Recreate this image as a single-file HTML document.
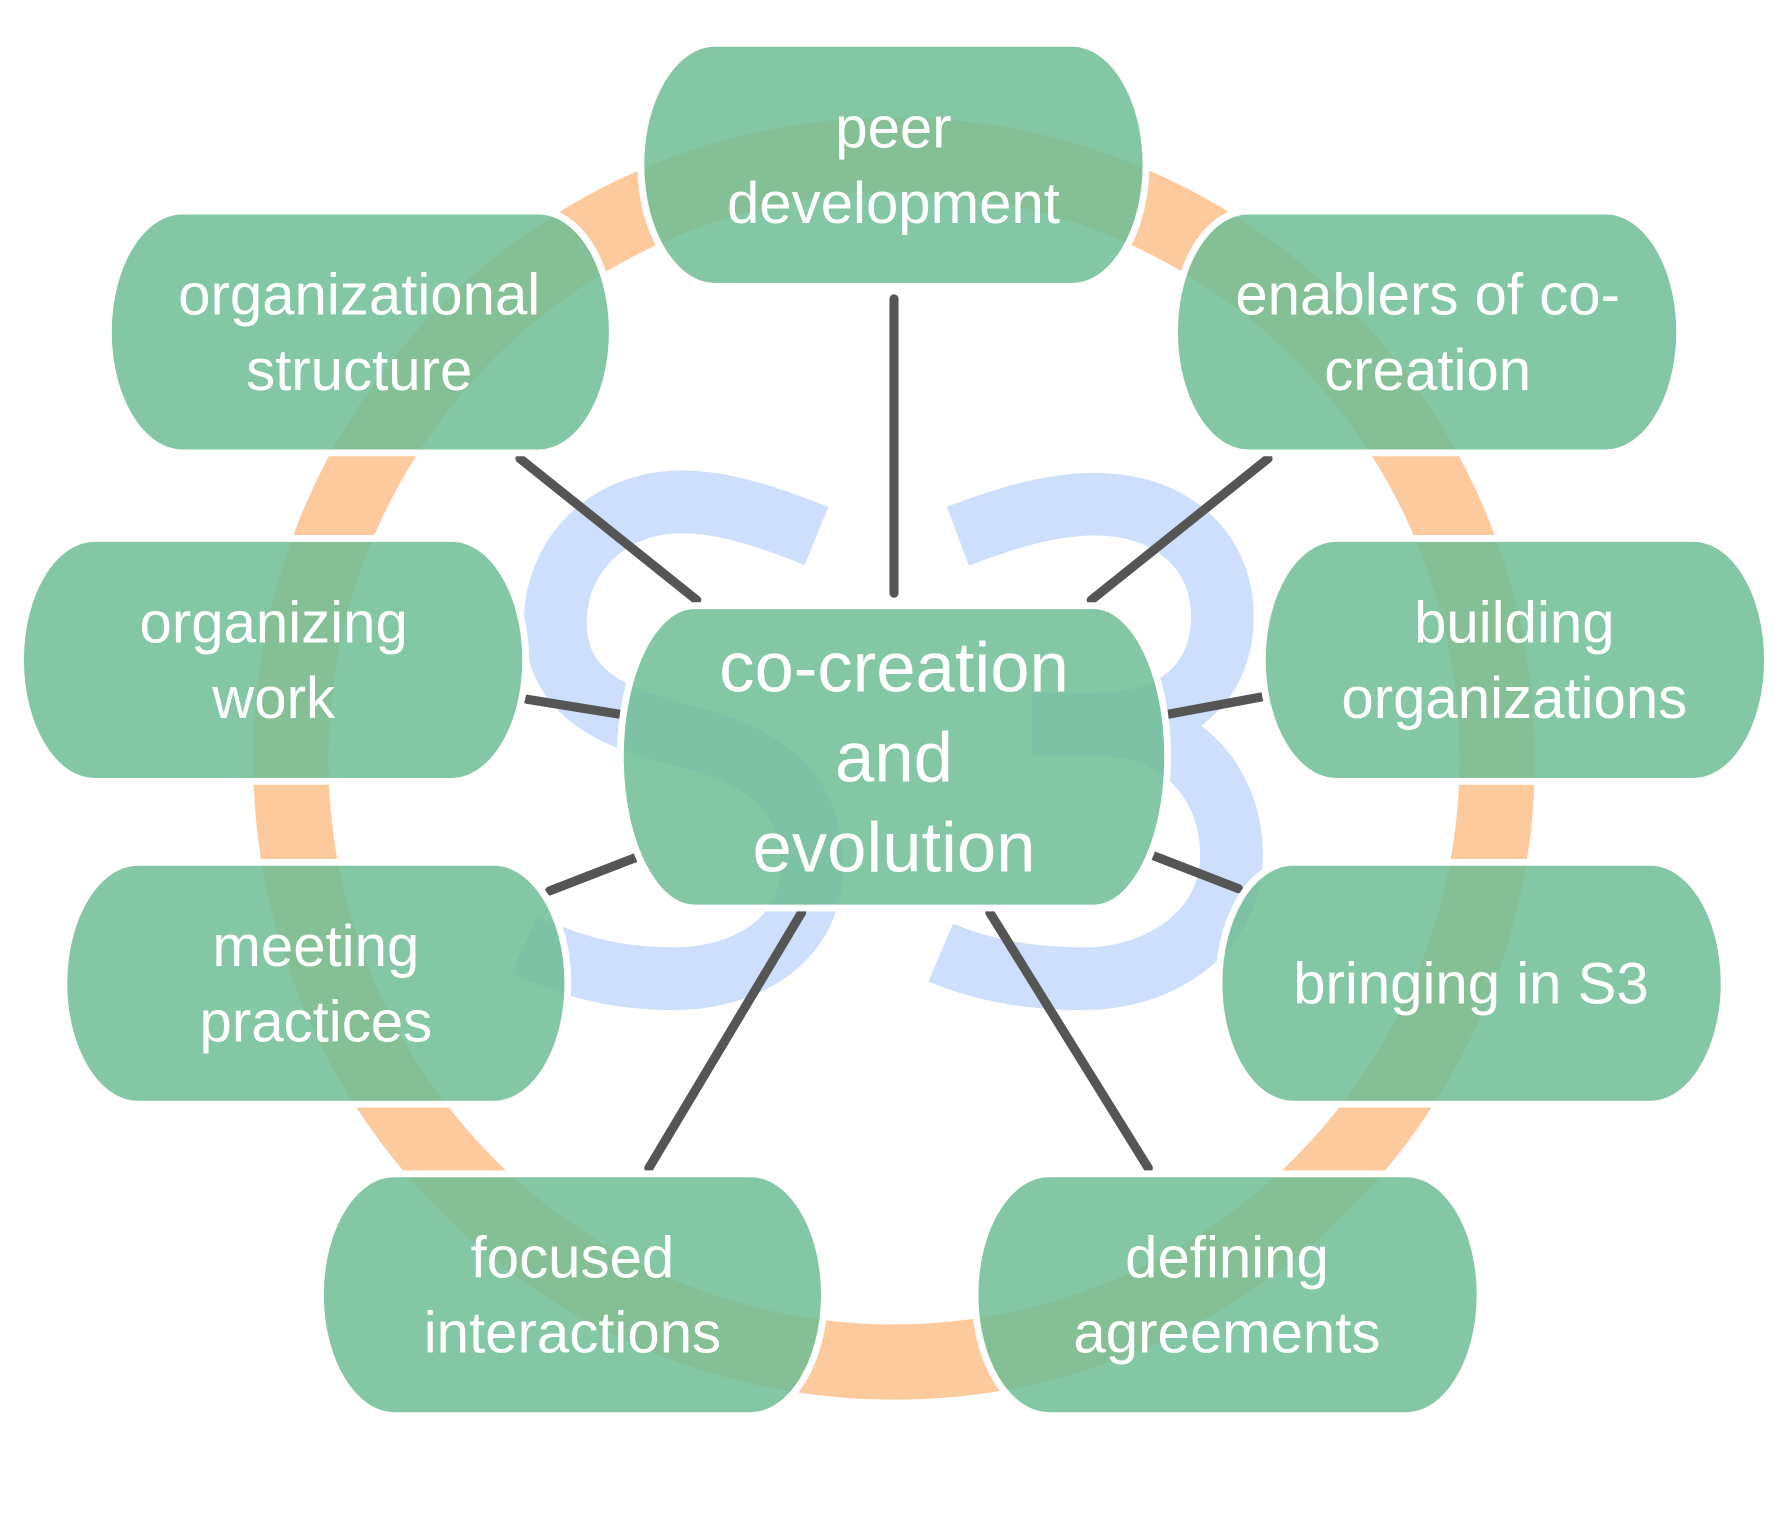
<!DOCTYPE html>
<html><head><meta charset="utf-8"><style>
html,body{margin:0;padding:0;background:#fff;}
svg{display:block;}
text{font-family:"Liberation Sans",sans-serif;fill:#fff;text-anchor:middle;}
</style></head><body>
<svg width="1788" height="1516" viewBox="0 0 1568 1329" preserveAspectRatio="none" xmlns="http://www.w3.org/2000/svg">
<rect width="1568" height="1329" fill="#fff"/>
<g fill="none" stroke="#cddffc" stroke-width="55">
<path d="M716,470 C660,447 625,440 598,440 C530,440 487,490 487,545 C487,610 540,630 600,645 C680,665 712,700 712,760 C712,820 660,858 590,858 C540,858 500,847 460,828"/>
<path d="M840,470 C880,455 920,442 960,442 C1030,442 1072,485 1072,540 C1072,600 1030,635 960,635 L905,635 M960,635 C1040,635 1080,690 1080,750 C1080,815 1020,858 950,858 C900,858 860,850 825,835"/>
</g>
<circle cx="784" cy="665" r="529" fill="none" stroke="#fdca9e" stroke-width="66"/>
<g stroke="#555" stroke-width="8" stroke-linecap="round">
<line x1="784" y1="262" x2="784" y2="520"/>
<line x1="456" y1="402" x2="611" y2="526"/>
<line x1="1112" y1="402" x2="957" y2="526"/>
<line x1="462" y1="613" x2="543" y2="626"/>
<line x1="1106" y1="611" x2="1025" y2="626"/>
<line x1="482" y1="781" x2="557" y2="752"/>
<line x1="1086" y1="779" x2="1011" y2="750"/>
<line x1="569" y1="1024" x2="703" y2="800"/>
<line x1="1007" y1="1024" x2="868" y2="800"/>
</g>
<g id="boxes"></g>
</svg>
<script>
const boxes=[
 ["peer-development-node",562,38,1005,251,["peer","development"],51,66],
 ["organizational-structure-node",95,185,537,397,["organizational","structure"],51,66],
 ["enablers-node",1030,185,1473,397,["enablers of co-","creation"],51,66],
 ["organizing-work-node",18,472,461,685,["organizing","work"],51,66],
 ["building-organizations-node",1107,472,1550,685,["building","organizations"],51,66],
 ["meeting-practices-node",56,756,498,968,["meeting","practices"],51,66],
 ["bringing-in-s3-node",1069,756,1512,968,["bringing in S3"],51,66],
 ["focused-interactions-node",281,1029,723,1241,["focused","interactions"],51,66],
 ["defining-agreements-node",855,1029,1298,1241,["defining","agreements"],51,66],
 ["center-node",544,531,1024,796,["co-creation","and","evolution"],62,79]
];
const NS="http://www.w3.org/2000/svg";
const g=document.getElementById('boxes');
const cx={"organizational-structure-node":315,"enablers-node":1252,"organizing-work-node":240,"building-organizations-node":1328,"meeting-practices-node":277,"bringing-in-s3-node":1290,"focused-interactions-node":502,"defining-agreements-node":1076};
boxes.forEach(b=>{
 const [name,x,y,x2,y2,lines,fs,lh]=b;
 const r=65,h=y2-y,m=(y+y2)/2,k=0.552;
 const grp=document.createElementNS(NS,'g');
 
 
 const p=document.createElementNS(NS,'path');
 p.setAttribute('d',`M${x+r},${y} L${x2-r},${y} C${x2-r+r*k},${y} ${x2},${m-h/2*k} ${x2},${m} C${x2},${m+h/2*k} ${x2-r+r*k},${y2} ${x2-r},${y2} L${x+r},${y2} C${x+r-r*k},${y2} ${x},${m+h/2*k} ${x},${m} C${x},${m-h/2*k} ${x+r-r*k},${y} ${x+r},${y} Z`);
 p.setAttribute('fill','#6fbd94');
 p.setAttribute('fill-opacity','0.85');
 p.setAttribute('stroke','#fff');
 p.setAttribute('stroke-width','6');
 
 
 grp.appendChild(p);
 const tx=cx[name]||(x+x2)/2;
 lines.forEach((t,i)=>{
  const te=document.createElementNS(NS,'text');
  
  
  te.setAttribute('x',tx);
  te.setAttribute('y',m+(i-(lines.length-1)/2)*lh+fs*0.35);
  te.setAttribute('font-size',fs);
  te.textContent=t;
  grp.appendChild(te);
 });
 g.appendChild(grp);
});
</script>
</body></html>
